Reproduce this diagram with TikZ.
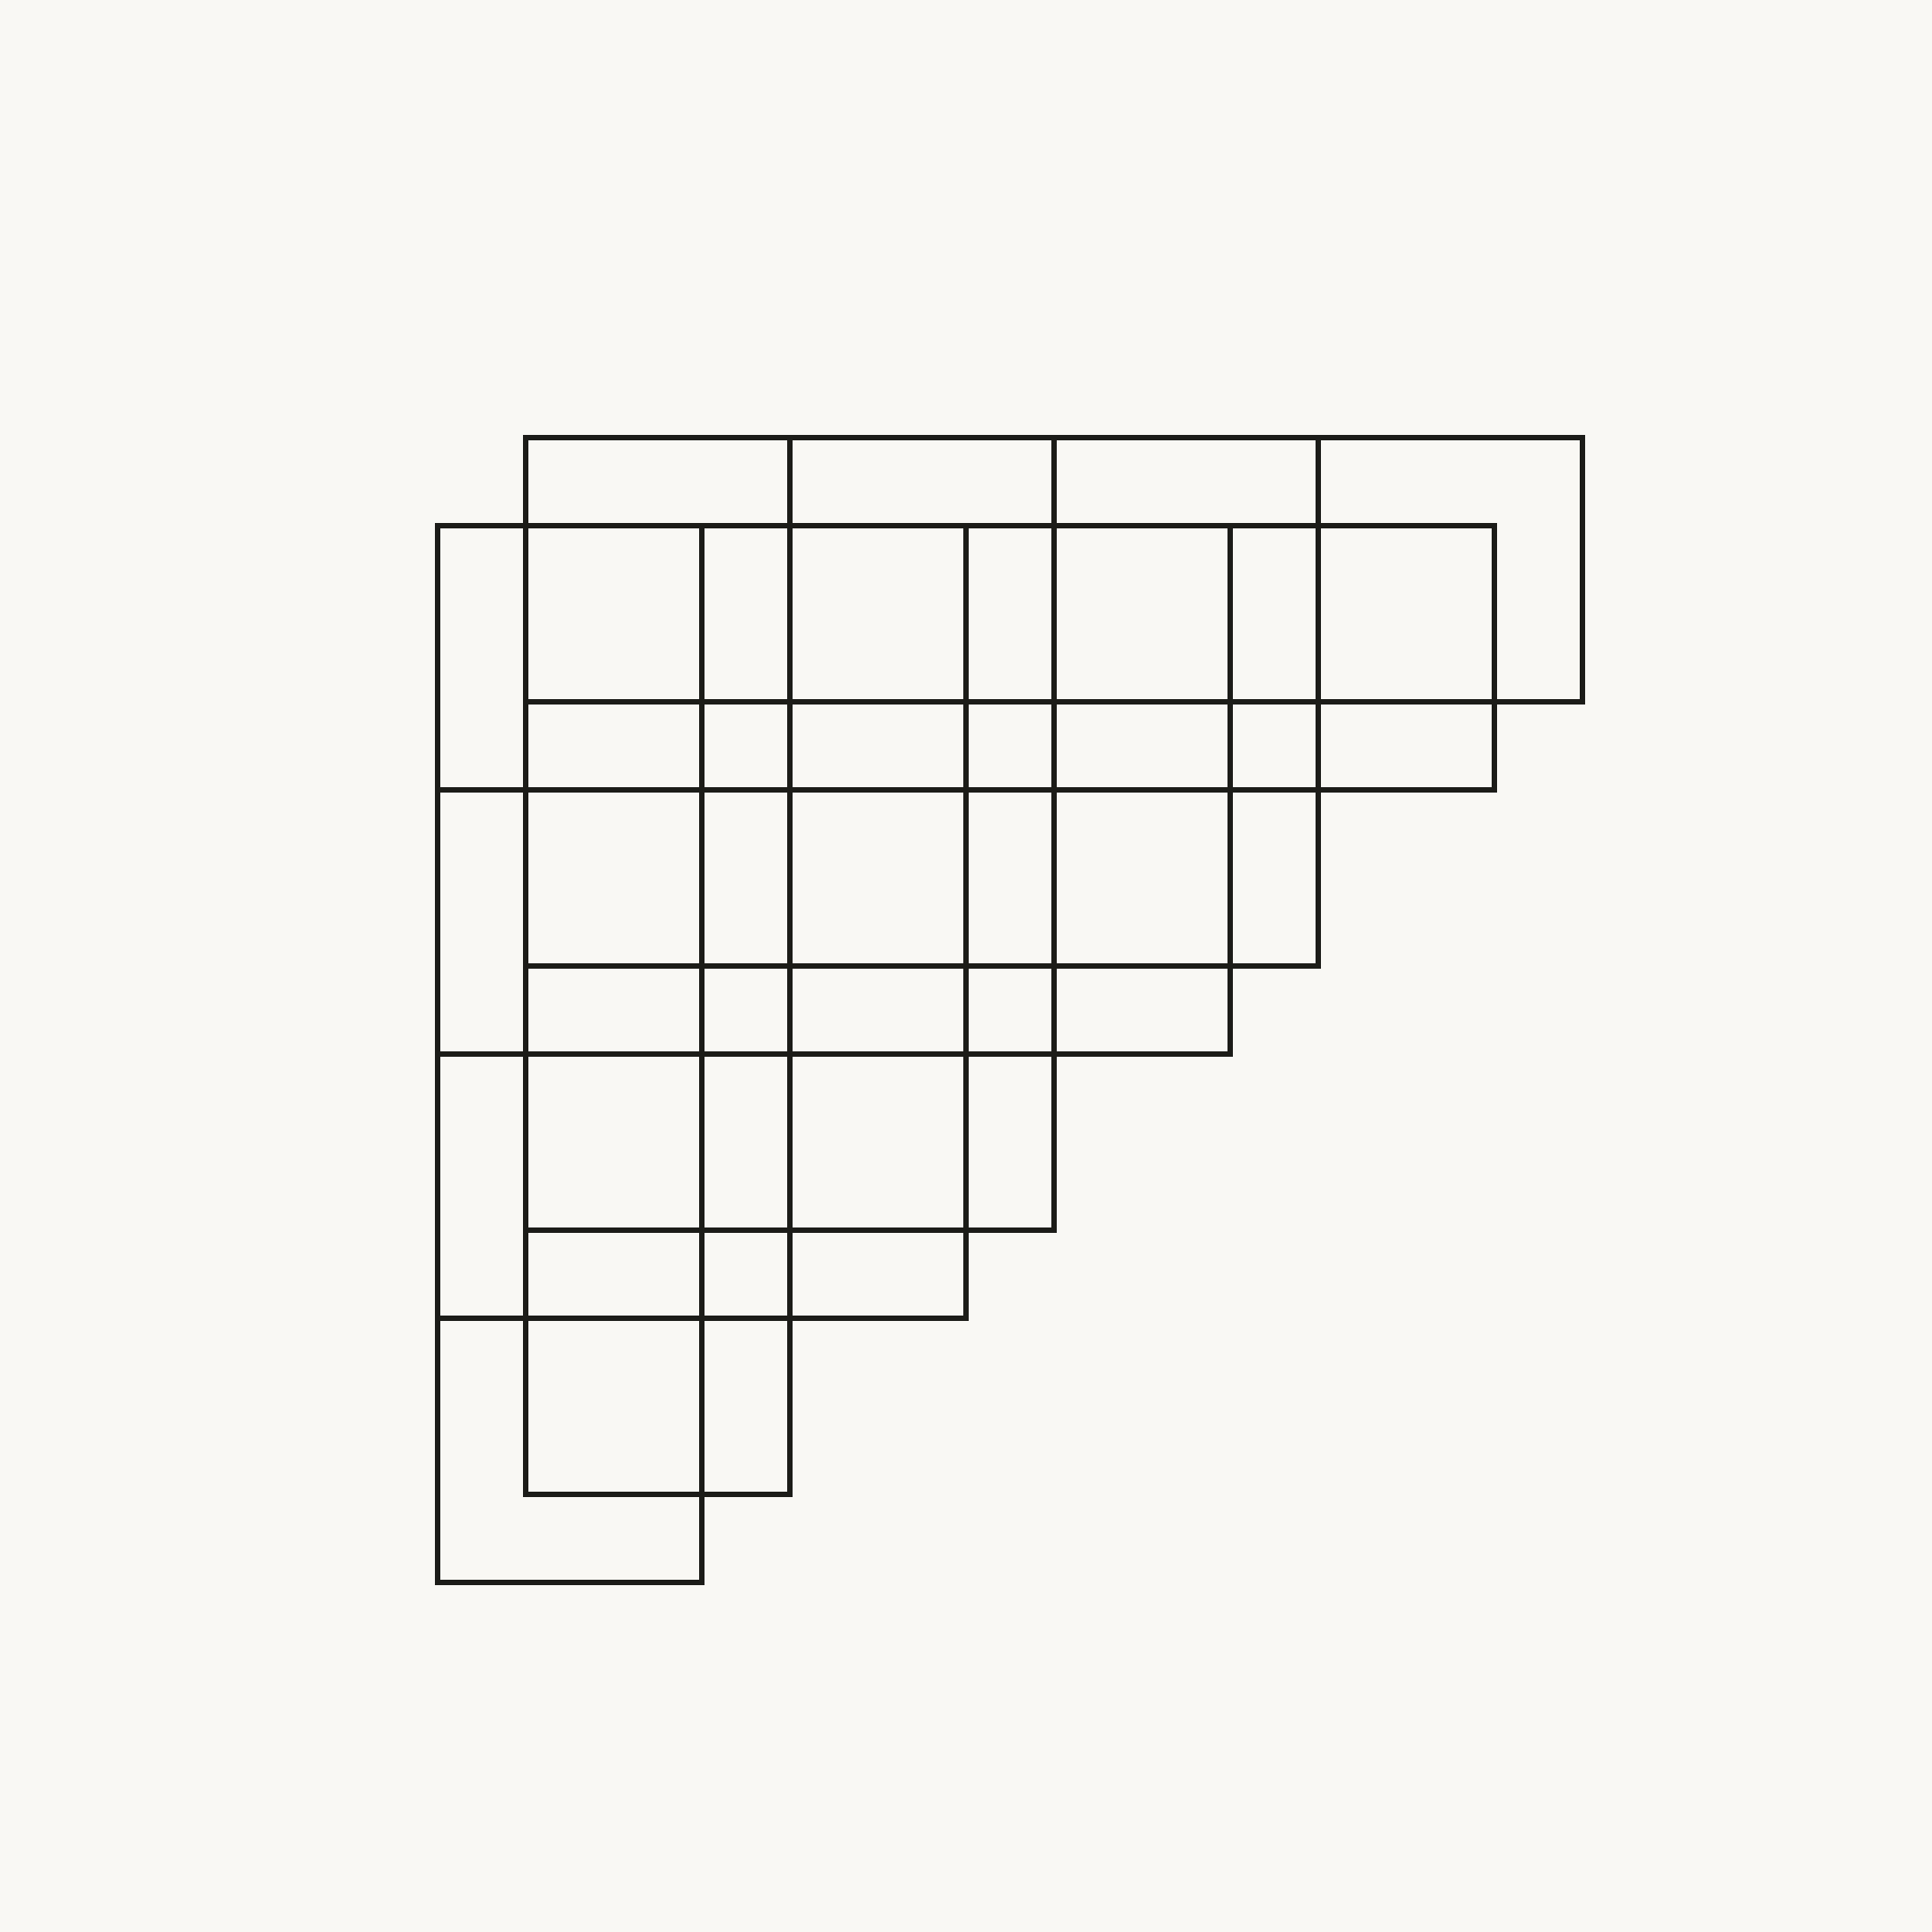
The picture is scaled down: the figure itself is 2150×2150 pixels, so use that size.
\documentclass[tikz,border=0pt]{standalone}
\begin{document}
\begin{tikzpicture}[x=0.01cm,y=-0.01cm,
  gridline/.style={draw=linec,line width=0.06cm,line join=miter,line cap=rect}]
\definecolor{bgc}{HTML}{F9F8F4}
\definecolor{linec}{HTML}{1C1C18}
\fill[bgc] (0,0) rectangle (2150,2150);
\useasboundingbox (0,0) rectangle (2150,2150);
% staircase A (upper right)
\foreach \r in {0,...,3}{
  \pgfmathtruncatemacro{\cmax}{3-\r}
  \foreach \c in {0,...,\cmax}{
    \draw[gridline] ({585+294*\c},{487+294*\r}) rectangle ++(294,294);
  }
}
% staircase B (lower left)
\foreach \r in {0,...,3}{
  \pgfmathtruncatemacro{\cmax}{3-\r}
  \foreach \c in {0,...,\cmax}{
    \draw[gridline] ({487+294*\c},{585+294*\r}) rectangle ++(294,294);
  }
}
\end{tikzpicture}
\end{document}
